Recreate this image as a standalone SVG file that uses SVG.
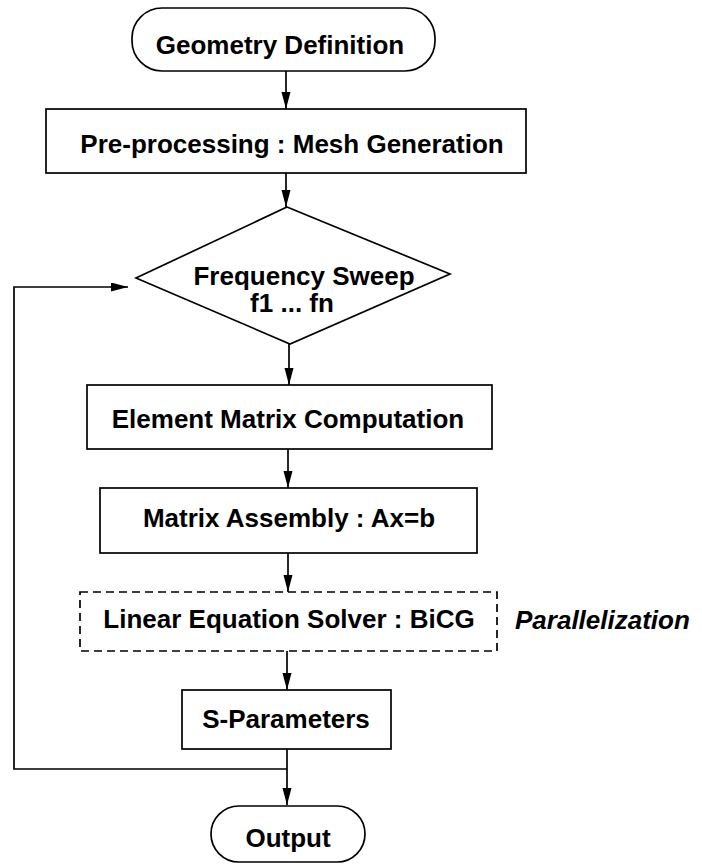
<svg xmlns="http://www.w3.org/2000/svg" width="702" height="868" viewBox="0 0 702 868">
<defs>
<marker id="ah" markerWidth="18" markerHeight="10" refX="17" refY="4.5" orient="auto" markerUnits="userSpaceOnUse">
<path d="M0,0 L17,4.5 L0,9 Z" fill="#000"/>
</marker>
<style>
.s{fill:#fff;stroke:#000;stroke-width:1.7}
.d{fill:#fff;stroke:#000;stroke-width:1.7;stroke-dasharray:8 5}
.t{font-family:"Liberation Sans",Arial,Helvetica,sans-serif;font-weight:bold;font-size:26px;fill:#000;text-anchor:middle}
.i{font-family:"Liberation Sans",Arial,Helvetica,sans-serif;font-weight:bold;font-style:italic;font-size:26px;fill:#000}
.c{fill:none;stroke:#000;stroke-width:1.7}
</style>
</defs>
<rect width="702" height="868" fill="#fff"/>
<g id="connectors">
<line class="c" x1="286" y1="71" x2="286" y2="109" marker-end="url(#ah)"/>
<line class="c" x1="286" y1="173" x2="286" y2="207" marker-end="url(#ah)"/>
<line class="c" x1="289" y1="344" x2="289" y2="385" marker-end="url(#ah)"/>
<line class="c" x1="288" y1="449" x2="288" y2="488" marker-end="url(#ah)"/>
<line class="c" x1="288" y1="553" x2="288" y2="592" marker-end="url(#ah)"/>
<line class="c" x1="287" y1="651" x2="287" y2="690" marker-end="url(#ah)"/>
<line class="c" x1="287" y1="749" x2="287" y2="805" marker-end="url(#ah)"/>
<polyline class="c" points="287,769 14,769 14,287 128,287" marker-end="url(#ah)"/>
</g>
<g id="geometry">
<rect class="s" x="132" y="8" width="303" height="63" rx="30" ry="30"/>
<text class="t" x="280" y="54">Geometry Definition</text>
</g>
<g id="preprocessing">
<rect class="s" x="46" y="109" width="480" height="64"/>
<text class="t" x="292" y="153">Pre-processing : Mesh Generation</text>
</g>
<g id="sweep">
<polygon class="s" points="287,207 450,274 290,344 136,278"/>
<text class="t" x="304" y="285">Frequency Sweep</text>
<text class="t" x="292" y="312">f1 ... fn</text>
</g>
<g id="element">
<rect class="s" x="87" y="385" width="405" height="64"/>
<text class="t" x="288" y="428">Element Matrix Computation</text>
</g>
<g id="assembly">
<rect class="s" x="100" y="488" width="377" height="65"/>
<text class="t" x="289" y="527">Matrix Assembly : Ax=b</text>
</g>
<g id="solver">
<rect class="d" x="80" y="592" width="417" height="59"/>
<text class="t" x="289" y="628">Linear Equation Solver : BiCG</text>
</g>
<g id="parallelization">
<text class="i" x="515" y="629">Parallelization</text>
</g>
<g id="sparams">
<rect class="s" x="182" y="690" width="209" height="59"/>
<text class="t" x="286" y="728">S-Parameters</text>
</g>
<g id="output">
<rect class="s" x="211" y="806" width="154" height="56" rx="28" ry="28"/>
<text class="t" x="288" y="847">Output</text>
</g>
</svg>
